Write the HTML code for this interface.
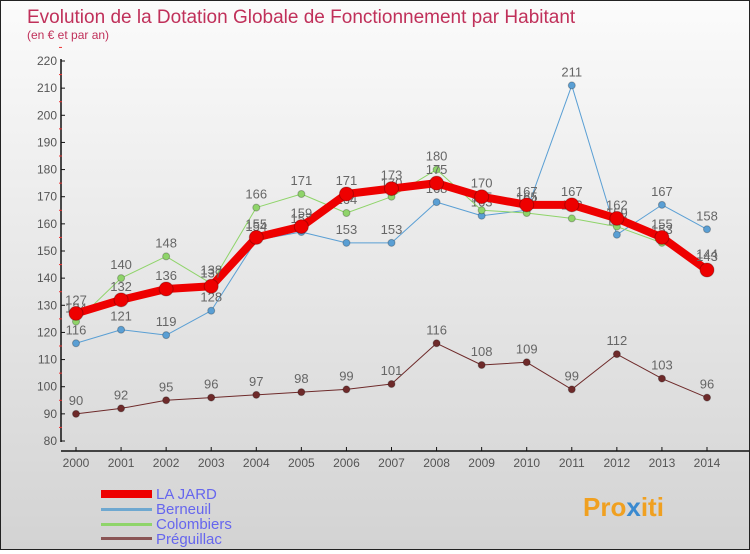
<!DOCTYPE html>
<html><head><meta charset="utf-8"><style>
html,body{margin:0;padding:0}
body{width:750px;height:550px;overflow:hidden;font-family:"Liberation Sans",sans-serif}
#wrap{position:relative;width:748px;height:548px;border:1px solid #222;background:linear-gradient(#fbfbfb,#d3d3d3)}
svg text{font-family:"Liberation Sans",sans-serif}
</style></head><body>
<div id="wrap">
<svg id="chart" width="748" height="548">
<text x="26" y="22" font-size="19" fill="#c0305a">Evolution de la Dotation Globale de Fonctionnement par Habitant</text>
<text x="26" y="38" font-size="12" fill="#c0305a">(en € et par an)</text>
<g id="axes"></g><g id="series"></g>
<g>
<rect x="100" y="489" width="51" height="8" fill="#e00"/>
<text x="155" y="498" font-size="15" fill="#6666ee">LA JARD</text>
<rect x="100" y="507" width="51" height="3" fill="#6fa8d0"/>
<text x="155" y="513" font-size="15" fill="#6666ee">Berneuil</text>
<rect x="100" y="522" width="51" height="3" fill="#8fd46a"/>
<text x="155" y="528" font-size="15" fill="#6666ee">Colombiers</text>
<rect x="100" y="536" width="51" height="3" fill="#8a5555"/>
<text x="155" y="543" font-size="15" fill="#6666ee">Préguillac</text>
</g>
<text x="582" y="515" font-size="26" font-weight="bold" fill="#f0a020">Pro<tspan fill="#3a8ad0">x</tspan>iti</text>
</svg></div>
<script>
const years=[2000,2001,2002,2003,2004,2005,2006,2007,2008,2009,2010,2011,2012,2013,2014];
const laJard=[127,132,136,137,155,159,171,173,175,170,167,167,162,155,143];
const berneuil=[116,121,119,128,154,157,153,153,168,163,165,211,156,167,158];
const colombiers=[124,140,148,138,166,171,164,170,180,165,164,162,159,153,144];
const preguillac=[90,92,95,96,97,98,99,101,116,108,109,99,112,103,96];
const yTicks=[80,90,100,110,120,130,140,150,160,170,180,190,200,210,220];
const NS='http://www.w3.org/2000/svg';
function x(i){return 75+i*(706-75)/14;}
function y(v){return 440-(v-80)*(380/140);}
function mk(t,a,p){const e=document.createElementNS(NS,t);for(const k in a)e.setAttribute(k,a[k]);p.appendChild(e);return e;}
const ax=document.getElementById('axes');
let e=mk('line',{x1:60,y1:58,x2:60,y2:441,stroke:'#111','stroke-width':1.5},ax);


yTicks.forEach(v=>{
 mk('line',{x1:60,y1:y(v),x2:64,y2:y(v),stroke:'#111'},ax);
 mk('line',{x1:58,y1:y(v+5),x2:61,y2:y(v+5),stroke:'#e33'},ax);
 const t=mk('text',{x:56,y:y(v)+4,'font-size':12,fill:'#555','text-anchor':'end'},ax);t.textContent=v;
 
 
});
e=mk('line',{x1:60,y1:450,x2:748,y2:450,stroke:'#111','stroke-width':1.5},ax);


years.forEach((yr,i)=>{
 mk('line',{x1:x(i),y1:446,x2:x(i),y2:450,stroke:'#111'},ax);
 const t=mk('text',{x:x(i),y:466,'font-size':12,fill:'#555','text-anchor':'middle'},ax);t.textContent=yr;
 
 
});
const sg=document.getElementById('series');
function draw(data,color,w,r,name){
 const g=mk('g',{},sg);
 
 
 mk('polyline',{points:data.map((v,i)=>x(i)+','+y(v)).join(' '),fill:'none',stroke:color,'stroke-width':w,'stroke-linejoin':'round'},g);
 data.forEach((v,i)=>{
  const c=mk('circle',{cx:x(i),cy:y(v),r:r,fill:color,stroke:'rgba(0,0,0,0.25)'},g);
  
  
  const t=mk('text',{x:x(i),y:y(v)-9,'font-size':13,fill:'#666','text-anchor':'middle'},g);t.textContent=v;
  
  
 });
}
draw(preguillac,'#6e2a2a',1,3.5,'preguillac');
draw(berneuil,'#5a9fd4',1,3.5,'berneuil');
draw(colombiers,'#8fd46a',1,3.5,'colombiers');
draw(laJard,'#ee0000',8,7,'la-jard');
</script>
</body></html>
